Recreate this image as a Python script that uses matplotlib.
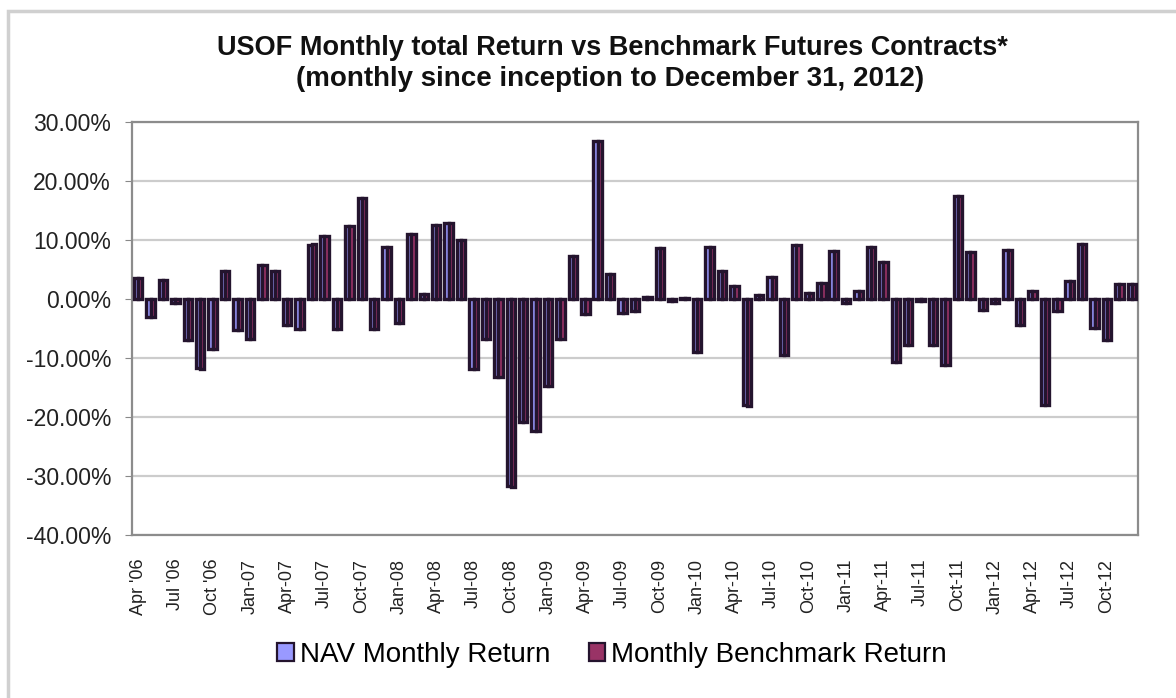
import numpy as np
import matplotlib
matplotlib.use("Agg")
import matplotlib.pyplot as plt
from matplotlib.patches import Rectangle

plt.rcParams['font.family'] = ['Liberation Sans', 'DejaVu Sans']

# monthly returns in percent, Apr 2006 .. Dec 2012
months = ["Apr '06", "May '06", "Jun '06", "Jul '06", "Aug '06", "Sep '06", "Oct '06", "Nov '06", "Dec '06"]
for yy in range(7, 13):
    for mm in ["Jan", "Feb", "Mar", "Apr", "May", "Jun", "Jul", "Aug", "Sep", "Oct", "Nov", "Dec"]:
        months.append(f"{mm}-{yy:02d}")

benchmark = [3.6, -3.0, 3.2, -0.6, -6.9, -11.8, -8.5, 4.8, -5.3,
             -6.7, 5.7, 4.7, -4.4, -5.0, 9.3, 10.7, -5.1, 12.3, 17.2, -5.0, 8.9,
             -4.1, 11.1, 0.8, 12.5, 12.9, 10.0, -11.8, -6.8, -13.2, -31.8, -20.9, -22.4,
             -14.7, -6.7, 7.3, -2.5, 26.8, 4.2, -2.3, -2.0, 0.3, 8.6, -0.3, 0.1,
             -9.0, 8.8, 4.7, 2.2, -18.1, 0.7, 3.8, -9.5, 9.2, 1.0, 2.7, 8.1,
             -0.6, 1.4, 8.9, 6.2, -10.6, -7.8, -0.3, -7.8, -11.2, 17.5, 7.9, -1.9,
             -0.6, 8.3, -4.4, 1.4, -18.0, -2.1, 3.1, 9.3, -4.9, -6.9, 2.5, 2.5]
nav = [3.5, -3.0, 3.2, -0.6, -6.9, -11.7, -8.5, 4.8, -5.3,
       -6.7, 5.7, 4.7, -4.4, -5.0, 9.2, 10.7, -5.1, 12.3, 17.1, -5.0, 8.9,
       -4.1, 11.1, 0.8, 12.5, 12.9, 10.0, -11.8, -6.8, -13.2, -31.7, -20.9, -22.3,
       -14.7, -6.7, 7.3, -2.5, 26.7, 4.2, -2.3, -2.0, 0.3, 8.6, -0.3, 0.1,
       -9.0, 8.8, 4.7, 2.2, -18.0, 0.7, 3.8, -9.5, 9.2, 1.0, 2.7, 8.1,
       -0.6, 1.4, 8.9, 6.2, -10.6, -7.8, -0.3, -7.8, -11.2, 17.4, 7.9, -1.9,
       -0.6, 8.3, -4.4, 1.4, -18.0, -2.1, 3.1, 9.3, -4.9, -6.9, 2.5, 2.5]

fig = plt.figure(figsize=(11.76, 6.98), dpi=100)
fig.patches.append(Rectangle((8 / 1176, -0.1), 1.2, 1 - 11 / 698 + 0.1, transform=fig.transFigure,
                             fill=False, edgecolor='#d0d0d0', linewidth=2.5))

ax = fig.add_axes([0.1122, 0.2335, 0.8555, 0.5917])
x = np.arange(len(months))
w = 0.34
ax.bar(x - w / 2, nav, width=w, color='#9999ff', edgecolor='#24142e', linewidth=2.4,
       label='NAV Monthly Return', zorder=3)
ax.bar(x + w / 2, benchmark, width=w, color='#993366', edgecolor='#24142e', linewidth=2.4,
       label='Monthly Benchmark Return', zorder=3)

ax.set_ylim(-40, 30)
ax.set_xlim(-0.5, len(months) - 0.5)
ax.set_yticks(np.arange(-40, 31, 10))
ax.set_yticklabels([f"{v:.2f}%" for v in np.arange(-40, 31, 10)], fontsize=16.5, color='#222222')
ax.yaxis.grid(True, color='#cccccc', linewidth=1.6, zorder=0)
ax.set_xticks(x[::3])
ax.set_xticklabels(months[::3], rotation=90, fontsize=13, color='#222222')
ax.tick_params(axis='x', length=0, pad=17)
ax.tick_params(axis='y', length=5, color='#888888', pad=10)
for s in ax.spines.values():
    s.set_color('#8c8c8c')
    s.set_linewidth(1.6)

fig.text(612 / 1176, 1 - 48 / 698, "USOF Monthly total Return vs Benchmark Futures Contracts*",
         ha='center', va='center', fontsize=19.5, fontweight='bold', color='#111111')
fig.text(610 / 1176, 1 - 79 / 698, "(monthly since inception to December 31, 2012)",
         ha='center', va='center', fontsize=20, fontweight='bold', color='#111111')

leg = fig.legend(loc='center', bbox_to_anchor=(612 / 1176, 1 - 655 / 698), ncol=2, frameon=False,
                 fontsize=20, handlelength=0.6, handleheight=0.6, handletextpad=0.2, columnspacing=1.4)
for h in leg.legend_handles:
    h.set_linewidth(1.6)

fig.savefig('out.png', dpi=100)
